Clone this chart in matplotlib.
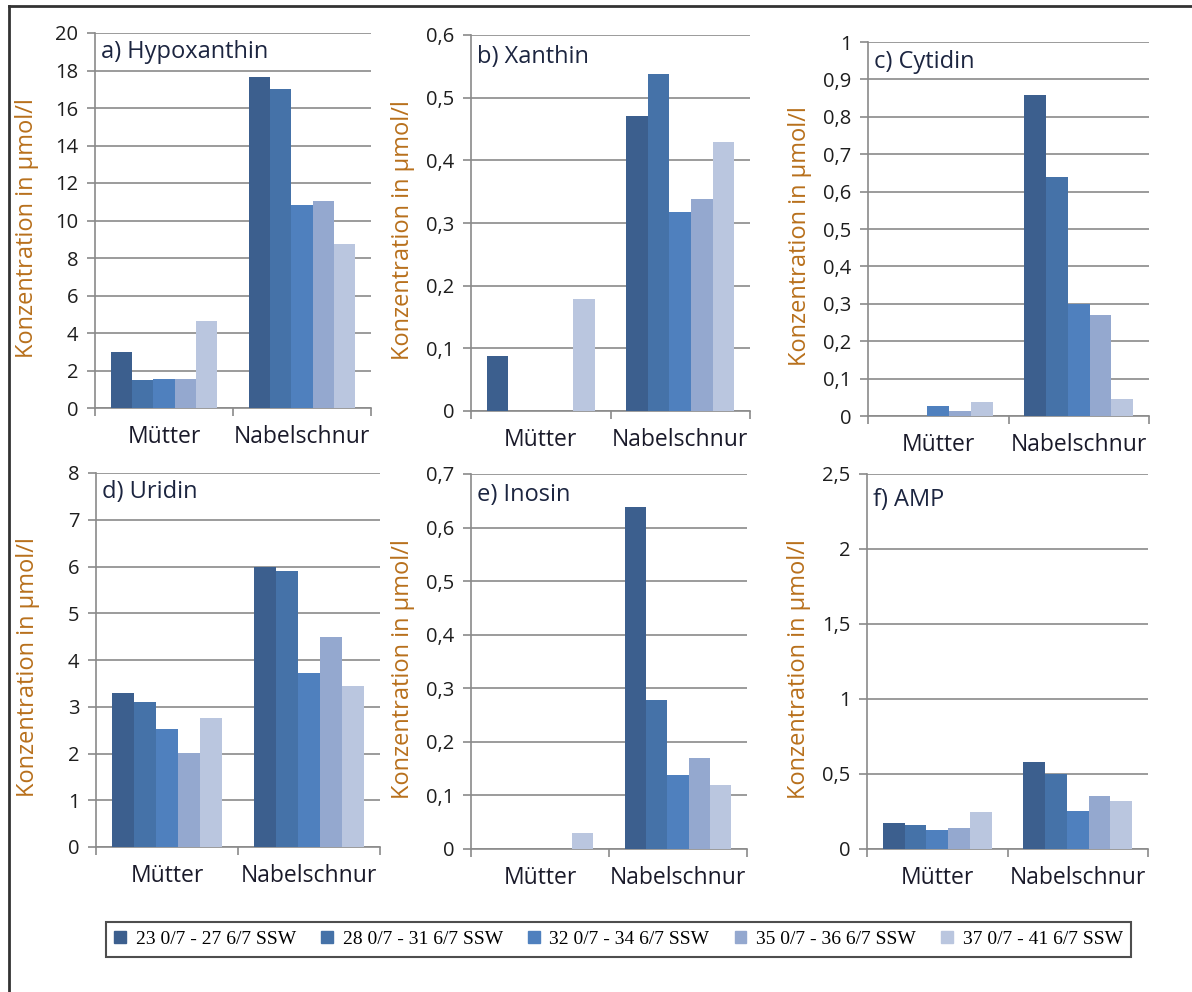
import matplotlib
matplotlib.use('Agg')
from matplotlib import pyplot as plt
from matplotlib.ticker import FuncFormatter, MultipleLocator, FixedLocator
from matplotlib.lines import Line2D
import numpy as np

plt.rcParams['font.family'] = ['Open Sans', 'DejaVu Sans']

categories = ['Mütter', 'Nabelschnur']
groups = ['23 0/7 - 27 6/7 SSW', '28 0/7 - 31 6/7 SSW', '32 0/7 - 34 6/7 SSW',
          '35 0/7 - 36 6/7 SSW', '37 0/7 - 41 6/7 SSW']
colors = ['#3c5f8e', '#4572a8', '#4f80be', '#94a8cf', '#bac6df']

# values per group: [Mütter, Nabelschnur]
hypoxanthin = [[3.0, 17.65], [1.48, 17.02], [1.56, 10.82], [1.56, 11.02], [4.65, 8.76]]
xanthin = [[0.088, 0.470], [0, 0.537], [0, 0.317], [0, 0.339], [0.178, 0.430]]
cytidin = [[0, 0.857], [0, 0.639], [0.028, 0.299], [0.013, 0.271], [0.037, 0.046]]
uridin = [[3.29, 5.99], [3.11, 5.91], [2.53, 3.72], [2.01, 4.49], [2.75, 3.44]]
inosin = [[0, 0.638], [0, 0.278], [0, 0.138], [0, 0.169], [0.029, 0.119]]
amp = [[0.176, 0.582], [0.162, 0.500], [0.129, 0.256], [0.140, 0.356], [0.244, 0.322]]

panels = [
    ('a) Hypoxanthin', hypoxanthin, 20, 2),
    ('b) Xanthin', xanthin, 0.6, 0.1),
    ('c) Cytidin', cytidin, 1.0, 0.1),
    ('d) Uridin', uridin, 8, 1),
    ('e) Inosin', inosin, 0.7, 0.1),
    ('f) AMP', amp, 2.5, 0.5),
]

# axes boxes in pixels: left, top, right, bottom
W, H = 1192, 992
boxes = [
    (95, 33, 371, 408),
    (471, 35, 750, 411),
    (868, 42, 1149, 416),
    (96, 473, 380, 847),
    (471, 474, 747, 849),
    (867, 474, 1148, 849),
]
title_off = [19, 22, 20, 19, 21, 26]

grid_col = '#8a8a8a'
label_col = '#b8701c'
text_col = '#1e1e1e'


def comma_fmt(v, pos):
    s = '%g' % round(v, 6)
    return s.replace('.', ',')


fig = plt.figure(figsize=(W / 100, H / 100), dpi=100)

bw = 0.155
x = np.arange(len(categories))
for (title, data, ymax, step), (l, t, r, b), toff in zip(panels, boxes, title_off):
    ax = fig.add_axes([l / W, 1 - b / H, (r - l) / W, (b - t) / H])
    for i, vals in enumerate(data):
        ax.bar(x + (i - 2) * bw, vals, width=bw, color=colors[i], linewidth=0, zorder=3)
    ax.set_xlim(-0.5, 1.5)
    ax.set_ylim(0, ymax)
    ax.yaxis.set_major_locator(MultipleLocator(step))
    ax.yaxis.set_major_formatter(FuncFormatter(comma_fmt))
    ax.grid(axis='y', color=grid_col, linewidth=1.2, zorder=0)
    ax.set_axisbelow(True)
    for s in ['top', 'right']:
        ax.spines[s].set_visible(False)
    ax.spines['left'].set_color(grid_col)
    ax.spines['bottom'].set_color(grid_col)
    ax.spines['left'].set_linewidth(1.2)
    ax.spines['bottom'].set_linewidth(1.2)
    ax.tick_params(axis='y', length=6, width=1.2, color=grid_col, pad=6,
                   labelsize=14.5, labelcolor=text_col)
    ax.set_xticks(x)
    ax.set_xticklabels(categories)
    ax.tick_params(axis='x', which='major', length=0, pad=12, labelsize=16.5,
                   labelcolor='#1a1a2a')
    ax.xaxis.set_minor_locator(FixedLocator([-0.5, 0.5, 1.5]))
    ax.tick_params(axis='x', which='minor', length=6, width=1.2, color=grid_col)
    ax.set_ylabel('Konzentration in µmol/l', fontsize=17, color=label_col)
    ax.yaxis.label.set_va('center')
    ax.yaxis.set_label_coords(-68 / (r - l), 0.48)
    ax.annotate(title, xy=(0, 1), xycoords='axes fraction', xytext=(6, -toff),
                textcoords='offset pixels', ha='left', va='center',
                fontsize=17, color='#1c2540')

handles = [plt.Rectangle((0, 0), 1, 1, color=c) for c in colors]
leg = fig.legend(handles, groups, loc='center',
                 bbox_to_anchor=((104 + 1133) / 2 / W, 1 - 939.5 / H),
                 ncol=5, frameon=True, fancybox=False, handlelength=0.6,
                 handleheight=0.6, handletextpad=0.5, columnspacing=1.3,
                 borderpad=0.45, prop={'family': 'Liberation Serif', 'size': 14})
leg.get_frame().set_edgecolor('#222222')
leg.get_frame().set_linewidth(1.5)

# outer frame lines (left and top)
fig.add_artist(Line2D([9 / W, 9 / W], [0, 1 - 6 / H], color='#333333', linewidth=2,
                      transform=fig.transFigure))
fig.add_artist(Line2D([9 / W, 1], [1 - 6 / H, 1 - 6 / H], color='#333333', linewidth=2,
                      transform=fig.transFigure))

fig.savefig('out.png', dpi=100)
